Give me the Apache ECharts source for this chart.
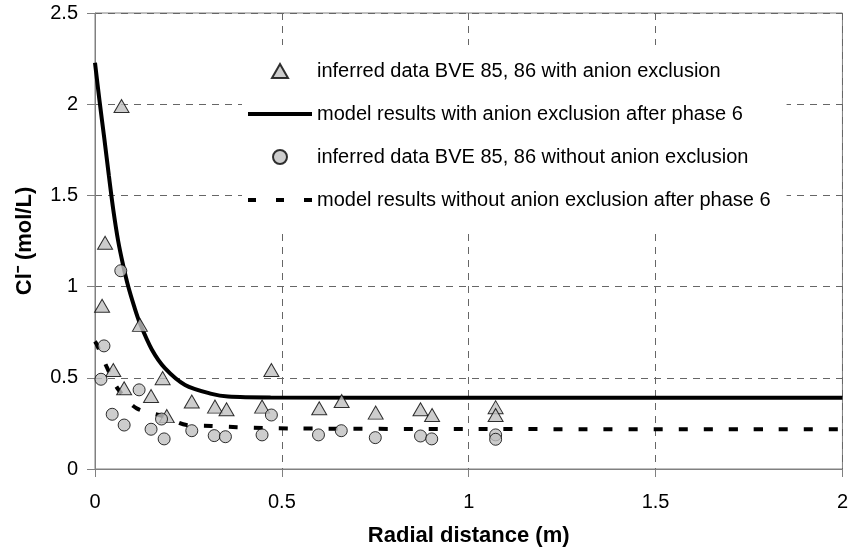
<!DOCTYPE html>
<html lang="en">
<head>
    <meta charset="UTF-8">
    <title>Cl- vs radial distance</title>
    <script src="https://cdn.jsdelivr.net/npm/echarts@6/dist/echarts.min.js"></script>
    <style>
        html, body { margin: 0; padding: 0; background: #fff; }
    </style>
</head>
<body>

<div id="main" style="width: 851px;height:556px;"></div>
<script>
    // inferred data, with anion exclusion (triangles)
    var triWithX = [0.019, 0.027, 0.049, 0.071, 0.078, 0.120, 0.150, 0.181, 0.192, 0.259, 0.321, 0.352, 0.447, 0.472,
        0.600, 0.660, 0.751, 0.871, 0.902, 1.072, 1.072];
    var triWithY = [0.895, 1.24, 0.543, 1.99, 0.443, 0.79, 0.40, 0.498, 0.29, 0.37, 0.342, 0.328, 0.342, 0.543,
        0.333, 0.373, 0.309, 0.328, 0.296, 0.339, 0.296];

    // inferred data, without anion exclusion (circles)
    var circWithoutX = [0.016, 0.024, 0.046, 0.069, 0.078, 0.118, 0.150, 0.178, 0.185, 0.259, 0.319, 0.349, 0.447, 0.472,
        0.598, 0.659, 0.750, 0.871, 0.901, 1.072, 1.072];
    var circWithoutY = [0.492, 0.675, 0.300, 1.087, 0.241, 0.434, 0.218, 0.274, 0.165, 0.210, 0.183, 0.177, 0.187, 0.296,
        0.187, 0.210, 0.172, 0.181, 0.165, 0.187, 0.163];

    // model results after phase 6
    var modelWithX = [0, 0.012, 0.025, 0.037, 0.049, 0.062, 0.075, 0.089, 0.105, 0.120, 0.152, 0.187, 0.241, 0.312, 0.356, 0.47, 1.0, 2.0];
    var modelWithY = [2.227, 2.02, 1.81, 1.61, 1.42, 1.25, 1.12, 1.0, 0.89, 0.80, 0.655, 0.553, 0.461, 0.412, 0.397, 0.392, 0.391, 0.391];

    var modelWithoutX = [0, 0.004, 0.031, 0.062, 0.111, 0.187, 0.245, 0.312, 0.38, 0.45, 0.52, 1.0, 2.0];
    var modelWithoutY = [0.70, 0.686, 0.561, 0.437, 0.333, 0.287, 0.241, 0.236, 0.229, 0.225, 0.222, 0.219, 0.218];

    var seriesNames = [
        'inferred data BVE 85, 86 with anion exclusion',
        'model results with anion exclusion after phase 6',
        'inferred data BVE 85, 86 without anion exclusion',
        'model results without anion exclusion after phase 6'
    ];

    function pairs(xs, ys) {
        return xs.map(function (x, i) { return [x, ys[i]]; });
    }

    var font = 'Liberation Sans, Arial, sans-serif';
    var gridLine = {show: true, lineStyle: {color: '#666', type: [7, 6], width: 1}};
    var axisLine = {show: true, onZero: false, lineStyle: {color: '#808080', width: 1}};
    var triPath = 'path://M0,0L8,-14L16,0Z';
    // legend icons for the two model lines
    var solidIcon = 'path://M0,0H64V4H0Z';
    var dashIcon = 'path://M0,0H8V4H0Z M28,0H36V4H28Z M56,0H64V4H56Z';

    var myChart = echarts.init(document.getElementById('main'));

    myChart.setOption({
        animation: false,
        textStyle: {fontFamily: font, color: '#000'},
        grid: {
            left: 95, top: 13, right: 8, bottom: 87,
            show: true, borderColor: '#808080', borderWidth: 1
        },
        legend: {
            orient: 'vertical',
            left: 242,
            top: 45,
            padding: [16, 16, 21, 6],
            itemGap: 23,
            itemWidth: 64,
            itemHeight: 14,
            symbolKeepAspect: true,
            backgroundColor: '#fff',
            textStyle: {fontSize: 20, color: '#000', fontFamily: font},
            data: [
                {name: seriesNames[0], icon: triPath},
                {name: seriesNames[1], icon: solidIcon},
                {name: seriesNames[2], icon: 'circle'},
                {name: seriesNames[3], icon: dashIcon}
            ]
        },
        xAxis: {
            type: 'value',
            min: 0, max: 2, interval: 0.5,
            name: 'Radial distance (m)',
            nameLocation: 'middle',
            nameGap: 56,
            nameTextStyle: {fontSize: 22, fontWeight: 'bold', color: '#000'},
            axisLine: axisLine,
            axisTick: {show: true, inside: false, length: 8, lineStyle: {color: '#808080'}},
            axisLabel: {fontSize: 20, color: '#000', margin: 23},
            splitLine: gridLine
        },
        yAxis: {
            type: 'value',
            min: 0, max: 2.5, interval: 0.5,
            name: 'Cl\u207B (mol/L)',
            nameLocation: 'middle',
            nameGap: 59,
            nameTextStyle: {fontSize: 22, fontWeight: 'bold', color: '#000'},
            axisLine: axisLine,
            axisTick: {show: true, inside: false, length: 8, lineStyle: {color: '#808080'}},
            axisLabel: {fontSize: 20, color: '#000', margin: 17},
            splitLine: gridLine
        },
        series: [
            {
                name: seriesNames[0],
                type: 'scatter',
                symbol: triPath,
                symbolSize: [15, 13],
                z: 4,
                itemStyle: {color: '#c0c0c0', borderColor: '#000', borderWidth: 1},
                data: pairs(triWithX, triWithY)
            },
            {
                name: seriesNames[1],
                type: 'line',
                symbol: 'none',
                smooth: 0.3,
                z: 3,
                lineStyle: {color: '#000', width: 4},
                itemStyle: {color: '#000'},
                data: pairs(modelWithX, modelWithY)
            },
            {
                name: seriesNames[2],
                type: 'scatter',
                symbol: 'circle',
                symbolSize: 12,
                z: 4,
                itemStyle: {color: '#c0c0c0', borderColor: '#000', borderWidth: 1},
                data: pairs(circWithoutX, circWithoutY)
            },
            {
                name: seriesNames[3],
                type: 'line',
                symbol: 'none',
                smooth: 0.3,
                z: 3,
                lineStyle: {color: '#000', width: 4, type: [9, 16]},
                itemStyle: {color: '#000'},
                data: pairs(modelWithoutX, modelWithoutY)
            }
        ]
    });
</script>
</body>
</html>
